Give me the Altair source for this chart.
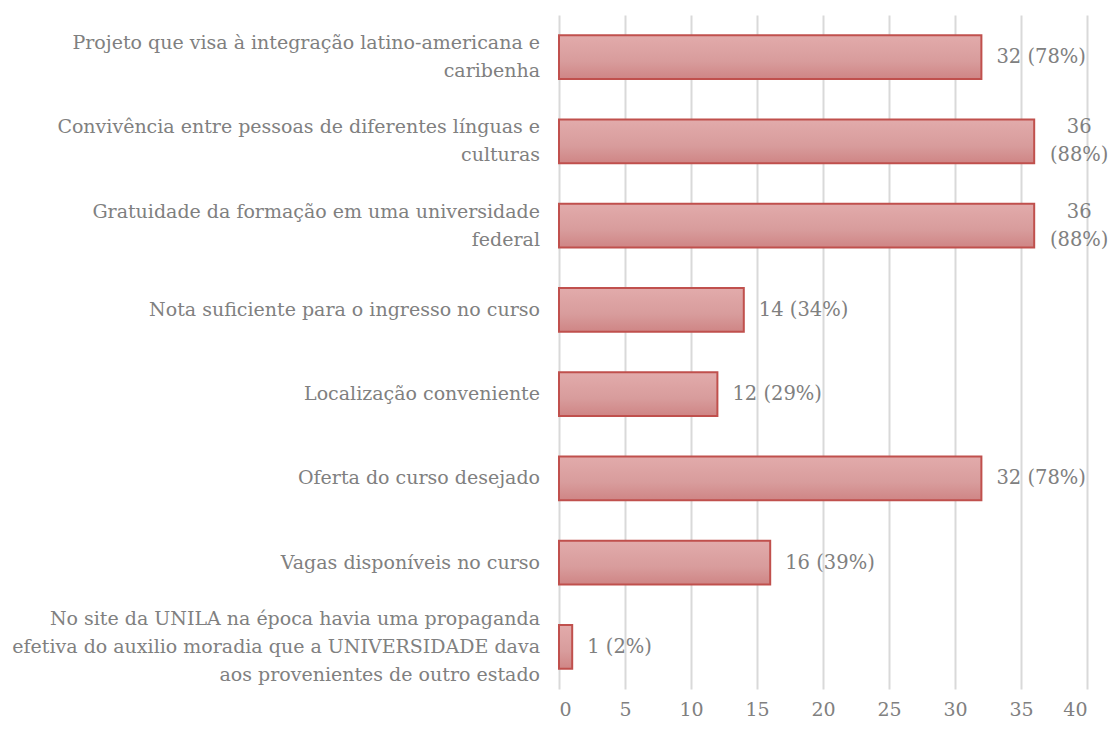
import altair as alt
import pandas as pd

categories = [
    "Projeto que visa à integração latino-americana e|caribenha",
    "Convivência entre pessoas de diferentes línguas e|culturas",
    "Gratuidade da formação em uma universidade|federal",
    "Nota suficiente para o ingresso no curso",
    "Localização conveniente",
    "Oferta do curso desejado",
    "Vagas disponíveis no curso",
    "No site da UNILA na época havia uma propaganda|efetiva do auxilio moradia que a UNIVERSIDADE dava|aos provenientes de outro estado",
]
values = [32, 36, 36, 14, 12, 32, 16, 1]
percents = [78, 88, 88, 34, 29, 78, 39, 2]
wrapped = [False, True, True, False, False, False, False, False]

LINE = 0.335  # line spacing in category units

df = pd.DataFrame({"cat": categories, "val": values, "pct": percents})

# category label lines (one row per line)
cat_rows = []
for i, c in enumerate(categories):
    parts = c.split("|")
    n = len(parts)
    for j, p in enumerate(parts):
        cat_rows.append({"line": p, "pos": i + (j - (n - 1) / 2) * LINE})
cat_df = pd.DataFrame(cat_rows)

# value label lines
val_single = []
val_wrap = []
for i, (v, p, w) in enumerate(zip(values, percents, wrapped)):
    if w:
        for j, t in enumerate([f"{v}", f"({p}%)"]):
            val_wrap.append({"val": v, "txt": t, "pos": i + (j - 0.5) * LINE})
    else:
        val_single.append({"val": v, "txt": f"{v} ({p}%)", "pos": i})
vs_df = pd.DataFrame(val_single)
vw_df = pd.DataFrame(val_wrap)

FONT = "DejaVu Serif"
GRAY = "#808080"

xscale = alt.Scale(domain=[0, 40])
ypos = alt.Y(
    "pos:Q",
    axis=None,
    scale=alt.Scale(domain=[-0.5, 7.5], reverse=True, nice=False, zero=False),
)

bars = alt.Chart(df).mark_bar(
    color=alt.Gradient(
        gradient="linear",
        x1=0, y1=0, x2=0, y2=1,
        stops=[
            alt.GradientStop(color="#e2abab", offset=0),
            alt.GradientStop(color="#d89c9c", offset=0.6),
            alt.GradientStop(color="#cf8585", offset=1),
        ],
    ),
    stroke="#c0504d",
    strokeWidth=2,
).encode(
    x=alt.X(
        "val:Q",
        title=None,
        scale=xscale,
        axis=alt.Axis(
            values=list(range(0, 41, 5)),
            domain=False,
            ticks=False,
            grid=True,
            gridColor="#d9d9d9",
            gridWidth=2,
            labelPadding=11,
            labelFont=FONT,
            labelFontSize=19,
            labelColor=GRAY,
        ),
    ),
    y=alt.Y(
        "cat:N",
        sort=categories,
        title=None,
        axis=None,
        scale=alt.Scale(paddingInner=0.48, paddingOuter=0.24),
    ),
)

cat_text = alt.Chart(cat_df).mark_text(
    align="right", baseline="middle", dx=-19, font=FONT, fontSize=19, color=GRAY
).encode(x=alt.value(0), y=ypos, text="line:N")

val_text = alt.Chart(vs_df).mark_text(
    align="left", baseline="middle", dx=15, font=FONT, fontSize=19.5, color=GRAY
).encode(x=alt.X("val:Q", scale=xscale), y=ypos, text="txt:N")

wrap_text = alt.Chart(vw_df).mark_text(
    align="center", baseline="middle", dx=45, font=FONT, fontSize=19.5, color=GRAY
).encode(x=alt.X("val:Q", scale=xscale), y=ypos, text="txt:N")

chart = alt.layer(bars, cat_text, val_text, wrap_text).resolve_scale(
    y="independent"
).properties(
    width=528,
    height=674,
    autosize=alt.AutoSizeParams(type="none"),
    padding={"left": 551, "top": 7, "right": 24, "bottom": 31},
).configure_view(stroke=None)

chart.save("out.html", embed_options={"renderer": "svg", "actions": False})
